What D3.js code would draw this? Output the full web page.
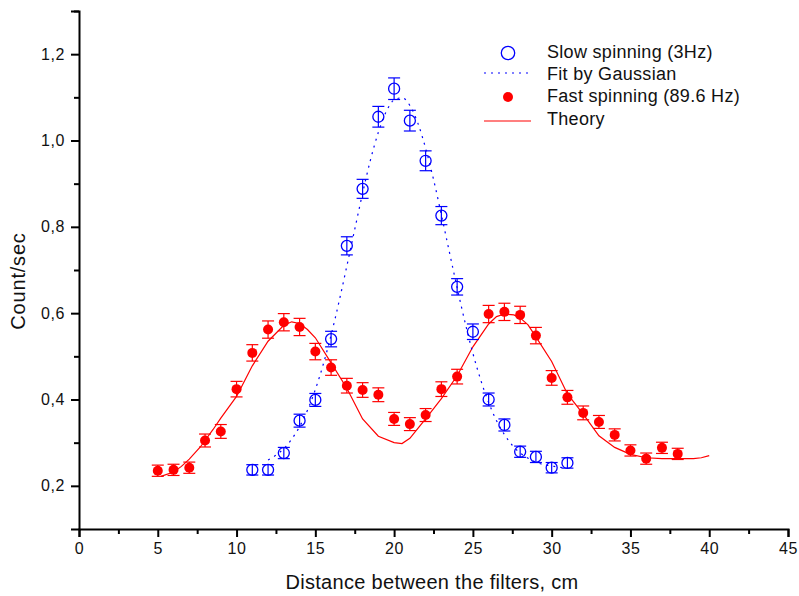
<!DOCTYPE html>
<html>
<head>
<meta charset="utf-8">
<script src="https://cdn.jsdelivr.net/npm/d3@7"></script>
<style>
  body { margin: 0; background: #fff; }
  text { font-family: "Liberation Sans", Arial, sans-serif; }
</style>
</head>
<body>
<div id="chart"></div>
<script>
// slow spinning (3Hz) measurements
var slowX   = [11, 12, 13, 14, 15, 16, 17, 18, 19, 20, 21, 22, 23, 24, 25, 26, 27, 28, 29, 30, 31];
var slowY   = [0.237, 0.237, 0.276, 0.351, 0.399, 0.540, 0.756, 0.888, 1.055, 1.120, 1.046, 0.953, 0.826, 0.661, 0.557, 0.400, 0.341, 0.279, 0.267, 0.242, 0.253];
var slowErr = [0.012, 0.012, 0.013, 0.015, 0.015, 0.018, 0.021, 0.022, 0.024, 0.025, 0.024, 0.023, 0.021, 0.019, 0.018, 0.015, 0.014, 0.013, 0.013, 0.012, 0.012];

// fast spinning (89.6 Hz) measurements
var fastX   = [5, 6, 7, 8, 9, 10, 11, 12, 13, 14, 15, 16, 17, 18, 19, 20, 21, 22, 23, 24, 26, 27, 28, 29, 30, 31, 32, 33, 34, 35, 36, 37, 38];
var fastY   = [0.235, 0.237, 0.242, 0.305, 0.326, 0.424, 0.508, 0.562, 0.579, 0.568, 0.511, 0.474, 0.432, 0.422, 0.411, 0.355, 0.343, 0.364, 0.424, 0.453, 0.598, 0.603, 0.596, 0.548, 0.450, 0.405, 0.369, 0.348, 0.318, 0.282, 0.263, 0.288, 0.274];
var fastErr = [0.013, 0.013, 0.013, 0.015, 0.016, 0.018, 0.019, 0.020, 0.020, 0.020, 0.019, 0.018, 0.017, 0.017, 0.016, 0.015, 0.015, 0.015, 0.017, 0.017, 0.020, 0.020, 0.020, 0.019, 0.017, 0.016, 0.016, 0.015, 0.014, 0.013, 0.013, 0.013, 0.013];

// Gaussian fit curve
var fitX = [12, 12.5, 13, 13.5, 14, 14.5, 15, 15.5, 16, 16.5, 17, 17.5, 18, 18.5, 19, 19.5, 20, 20.5, 21, 21.5, 22, 22.5, 23, 23.5, 24, 24.5, 25, 25.5, 26, 26.5, 27, 27.5, 28, 28.5, 29, 29.5, 30, 30.5, 31];
var fitY = [0.260, 0.271, 0.286, 0.308, 0.337, 0.375, 0.423, 0.481, 0.549, 0.626, 0.709, 0.794, 0.878, 0.955, 1.019, 1.067, 1.094, 1.099, 1.081, 1.041, 0.982, 0.910, 0.828, 0.743, 0.659, 0.579, 0.507, 0.445, 0.393, 0.351, 0.319, 0.294, 0.276, 0.264, 0.255, 0.249, 0.246, 0.243, 0.242];

// theory curve
var theoryX = [5.2, 6, 6.5, 7, 7.7, 8.5, 9, 10, 11, 12, 13, 13.5, 14, 14.5, 15, 16, 17, 18, 19, 20, 20.5, 21, 21.6, 22, 23, 24, 25, 26, 26.5, 27, 27.6, 28, 28.5, 29, 30, 31, 32, 33, 34, 35, 36, 37, 38, 39, 39.5, 40];
var theoryY = [0.222, 0.232, 0.245, 0.262, 0.290, 0.330, 0.357, 0.407, 0.478, 0.535, 0.572, 0.580, 0.576, 0.562, 0.543, 0.485, 0.426, 0.355, 0.315, 0.300, 0.298, 0.310, 0.337, 0.355, 0.402, 0.455, 0.522, 0.575, 0.592, 0.598, 0.596, 0.589, 0.573, 0.545, 0.488, 0.413, 0.366, 0.316, 0.289, 0.273, 0.265, 0.263, 0.263, 0.263, 0.265, 0.270];

var xMajor = [0, 5, 10, 15, 20, 25, 30, 35, 40, 45];
var xMinor = [2.5, 7.5, 12.5, 17.5, 22.5, 27.5, 32.5, 37.5, 42.5];
var yMajor = [0.2, 0.4, 0.6, 0.8, 1.0, 1.2];
var yMinor = [0.3, 0.5, 0.7, 0.9, 1.1, 1.3];

var legendLabels = ["Slow spinning (3Hz)", "Fit by Gaussian", "Fast spinning (89.6 Hz)", "Theory"];

var W = 799, H = 596;
var blue = "#0000ff", red = "#ff0000";

var svg = d3.select("#chart").append("svg")
    .attr("width", W)
    .attr("height", H);

var x = d3.scaleLinear().domain([0, 45]).range([79, 788]);
var y = d3.scaleLinear().domain([0.1, 1.3]).range([529, 11]);

var fmtY = function(d) { return d3.format(".1f")(d).replace(".", ","); };

// axes
svg.append("g")
    .attr("transform", "translate(0," + y(0.1) + ")")
    .call(d3.axisBottom(x).tickValues(xMajor).tickSize(8).tickPadding(6).tickFormat(d3.format("d")));
svg.append("g")
    .attr("transform", "translate(0," + y(0.1) + ")")
    .call(d3.axisBottom(x).tickValues(xMinor).tickSize(5).tickFormat(""))
    .select(".domain").remove();

svg.append("g")
    .attr("transform", "translate(" + x(0) + ",0)")
    .call(d3.axisLeft(y).tickValues(yMajor).tickSize(8).tickPadding(6).tickFormat(fmtY));
svg.append("g")
    .attr("transform", "translate(" + x(0) + ",0)")
    .call(d3.axisLeft(y).tickValues(yMinor).tickSize(5).tickFormat(""))
    .select(".domain").remove();

svg.selectAll(".domain").attr("stroke", "#000").attr("stroke-width", 2);
svg.selectAll(".tick line").attr("stroke", "#000").attr("stroke-width", 2);
svg.selectAll(".tick text")
    .style("font-size", "16px")
    .style("letter-spacing", "0.6px")
    .attr("fill", "#111");

// axis titles
svg.append("text")
    .attr("x", 432)
    .attr("y", 589)
    .attr("text-anchor", "middle")
    .style("font-size", "20px")
    .style("letter-spacing", "0.3px")
    .attr("fill", "#111")
    .text("Distance between the filters, cm");

svg.append("text")
    .attr("transform", "translate(25,281) rotate(-90)")
    .attr("text-anchor", "middle")
    .style("font-size", "20px")
    .style("letter-spacing", "0.8px")
    .attr("fill", "#111")
    .text("Count/sec");

// lines
var line = d3.line()
    .x(function(d) { return x(d[0]); })
    .y(function(d) { return y(d[1]); });

svg.append("path")
    .datum(theoryX.map(function(v, i) { return [v, theoryY[i]]; }))
    .attr("d", line)
    .attr("fill", "none")
    .attr("stroke", red)
    .attr("stroke-width", 1.2);

svg.append("path")
    .datum(fitX.map(function(v, i) { return [v, fitY[i]]; }))
    .attr("d", line.curve(d3.curveMonotoneX))
    .attr("fill", "none")
    .attr("stroke", blue)
    .attr("stroke-width", 1.2)
    .attr("stroke-dasharray", "2,5");

// error bars + markers
function drawSeries(xs, ys, es, color, filled, r) {
    var data = xs.map(function(v, i) { return {x: v, y: ys[i], e: es[i]}; });
    var g = svg.append("g");
    var eb = g.selectAll(".eb").data(data).enter().append("g")
        .attr("stroke", color).attr("stroke-width", 1.2);
    eb.append("line")
        .attr("x1", function(d) { return x(d.x); })
        .attr("x2", function(d) { return x(d.x); })
        .attr("y1", function(d) { return y(d.y + d.e); })
        .attr("y2", function(d) { return y(d.y - d.e); });
    eb.append("line")
        .attr("x1", function(d) { return x(d.x) - 6; })
        .attr("x2", function(d) { return x(d.x) + 6; })
        .attr("y1", function(d) { return y(d.y + d.e); })
        .attr("y2", function(d) { return y(d.y + d.e); });
    eb.append("line")
        .attr("x1", function(d) { return x(d.x) - 6; })
        .attr("x2", function(d) { return x(d.x) + 6; })
        .attr("y1", function(d) { return y(d.y - d.e); })
        .attr("y2", function(d) { return y(d.y - d.e); });
    g.selectAll("circle").data(data).enter().append("circle")
        .attr("cx", function(d) { return x(d.x); })
        .attr("cy", function(d) { return y(d.y); })
        .attr("r", r)
        .attr("fill", filled ? color : "none")
        .attr("stroke", color)
        .attr("stroke-width", filled ? 0 : 1.3);
}

drawSeries(fastX, fastY, fastErr, red, true, 5);
drawSeries(slowX, slowY, slowErr, blue, false, 5.5);

// legend
var lg = svg.append("g");
var symY = [53, 73, 97, 121];
var textY = [58, 80, 102, 125];
lg.append("circle").attr("cx", 508).attr("cy", symY[0]).attr("r", 6.7)
    .attr("fill", "none").attr("stroke", blue).attr("stroke-width", 1.3);
lg.append("line").attr("x1", 484).attr("x2", 530).attr("y1", symY[1]).attr("y2", symY[1])
    .attr("stroke", blue).attr("stroke-width", 1.2).attr("stroke-dasharray", "2,5");
lg.append("circle").attr("cx", 508).attr("cy", symY[2]).attr("r", 5).attr("fill", red);
lg.append("line").attr("x1", 484).attr("x2", 531).attr("y1", symY[3]).attr("y2", symY[3])
    .attr("stroke", red).attr("stroke-width", 1.2);

lg.selectAll("text").data(legendLabels).enter().append("text")
    .attr("x", 547)
    .attr("y", function(d, i) { return textY[i]; })
    .style("font-size", "18px")
    .style("letter-spacing", "0.3px")
    .attr("fill", "#111")
    .text(function(d) { return d; });
</script>
</body>
</html>
